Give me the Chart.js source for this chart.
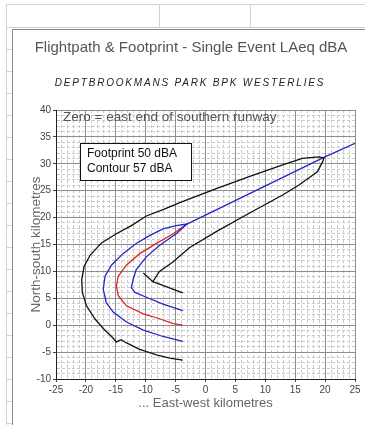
<!DOCTYPE html>
<html>
<head>
<meta charset="utf-8">
<script src="https://cdn.jsdelivr.net/npm/chart.js@4.4.0/dist/chart.umd.min.js"></script>
<style>
  body { margin: 0; background: #fff; width: 365px; height: 425px; overflow: hidden; position: relative; }
  .ln { position: absolute; background: #d2d2d2; }
  #box { position: absolute; left: 12px; top: 29px; width: 360px; height: 400px; border-left: 1px solid #8a8a8a; border-top: 1px solid #8a8a8a; }
  #chart { position: absolute; left: 13px; top: 30px; }
</style>
</head>
<body>
<!-- spreadsheet cells behind the chart -->
<div class="ln" style="left:6px;top:4px;width:359px;height:1px"></div>
<div class="ln" style="left:6px;top:27px;width:359px;height:1px"></div>
<div class="ln" style="left:159px;top:4px;width:1px;height:23px"></div>
<div class="ln" style="left:250px;top:4px;width:1px;height:23px"></div>
<div class="ln" style="left:6px;top:4px;width:1px;height:421px"></div>
<div id="rows"></div>
<div id="box"></div>
<canvas id="chart" width="352" height="395"></canvas>
<script>
// text
const chartTitle = "Flightpath & Footprint - Single Event LAeq dBA";
const chartSubtitle = "DEPTBROOKMANS PARK BPK WESTERLIES";
const noteText = "Zero = east end of southern runway";
const boxLines = ["Footprint 50 dBA", "Contour 57 dBA"];
const xTitle = "... East-west kilometres";
const yTitle = "North-south kilometres";

// axis ranges (km)
const xMin = -25, xMax = 25;
const yMin = -10, yMax = 40;

// footprint 50 dBA (black)
const footprintX = [-3.8, -6, -8.2, -11, -13.2, -14.1, -14.9, -15.7, -17.1, -18.5, -19.9, -20.6, -20.7, -20.3, -19.3, -17.4, -14.9, -12.4, -9.9, -7.1, -4.3, 1.8, 7.3, 12.9, 16.2, 19, 19.8, 19.6, 18.7, 15.7, 12.9, 7.3, 1.8, -2.7, -5.4, -7.7, -8.8, -10.4, -8.8, -3.8];
const footprintY = [-6.5, -6.1, -5.5, -4.5, -3.3, -2.7, -3.1, -2.1, -0.6, 1.2, 3.6, 6.1, 8.5, 10.9, 13, 15.3, 17, 18.5, 20.3, 21.5, 22.8, 25.4, 27.6, 29.8, 31.0, 31.3, 31.1, 30.4, 28.5, 26.1, 24.2, 20.8, 17.4, 14.4, 11.8, 10, 8.1, 9.7, 8.1, 6.0];

// contour 57 dBA (blue)
const contourX = [-3.8, -7.1, -10.4, -13.2, -15.4, -16.6, -17.1, -16.8, -15.7, -13.8, -11.6, -9.3, -7.1, -4.9, -3.1, -4.9, -7.7, -9.9, -11.6, -12.1, -12.4, -11.8, -9.9, -7.1, -3.8];
const contourY = [-3.0, -2.1, -0.9, 0.6, 2.4, 4.2, 6.7, 9.1, 11.2, 13.3, 15.2, 16.7, 17.9, 18.5, 18.8, 17, 14.8, 12.7, 10.3, 8.5, 7.0, 6.1, 5.2, 3.9, 2.7];

// flight path (red inside contour, blue beyond)
const pathX = [-3.8, -5.4, -7.7, -10.4, -13.2, -14.6, -14.9, -14.6, -13.2, -11, -8.2, -5.4, -3.1];
const pathY = [0, 0.3, 1.2, 2.1, 3.6, 5.5, 7.3, 9.1, 11.2, 13.3, 15.2, 17, 18.8];
const trackX = [-3.1, 19.8, 25];
const trackY = [18.8, 31.2, 33.8];

const pts = (xs, ys) => xs.map((x, i) => ({ x: x, y: ys[i] }));

// row lines in the left margin
const rows = document.getElementById("rows");
for (let y = 49; y < 425; y += 22) {
  const d = document.createElement("div");
  d.className = "ln";
  d.style.cssText = "left:6px;top:" + y + "px;width:6px;height:1px";
  rows.appendChild(d);
}

const isMajor = (ctx) => ctx.tick && ctx.tick.value % 5 === 0;

const textPlugin = {
  id: "texts",
  afterDatasetsDraw(chart) {
    const ctx = chart.ctx;
    ctx.save();
    ctx.textBaseline = "middle";

    ctx.textAlign = "center";
    ctx.fillStyle = "#555";
    ctx.font = '15px "Liberation Sans", Arial, sans-serif';
    ctx.fillText(chartTitle, 178, 18);

    ctx.fillStyle = "#222";
    ctx.font = 'italic 10px "Liberation Sans", Arial, sans-serif';
    ctx.letterSpacing = "1.8px";
    ctx.fillText(chartSubtitle, 177, 53);
    ctx.letterSpacing = "0px";

    ctx.textAlign = "left";
    ctx.fillStyle = "#555";
    ctx.font = '13.5px "Liberation Sans", Arial, sans-serif';
    ctx.fillText(noteText, 50, 87);

    ctx.fillStyle = "#fff";
    ctx.fillRect(67, 113, 111, 37);
    ctx.strokeStyle = "#111";
    ctx.lineWidth = 1;
    ctx.strokeRect(67.5, 113.5, 111, 37);
    ctx.fillStyle = "#111";
    ctx.font = '12px "Liberation Sans", Arial, sans-serif';
    ctx.fillText(boxLines[0], 74, 124);
    ctx.fillText(boxLines[1], 74, 139);
    ctx.restore();
  }
};

const gridOpts = {
  color: (ctx) => isMajor(ctx) ? "#8e8e8e" : "#cacaca",
  tickColor: (ctx) => isMajor(ctx) ? "#444" : "transparent",
  tickLength: 3,
  lineWidth: 1
};
const borderOpts = {
  color: "#222",
  dash: (ctx) => (ctx.tick && ctx.tick.value % 5 !== 0) ? [3, 2] : []
};
const tickFont = { family: '"Liberation Sans", Arial, sans-serif', size: 10 };

new Chart(document.getElementById("chart"), {
  type: "scatter",
  data: {
    datasets: [
      { label: "Footprint 50 dBA", data: pts(footprintX, footprintY), borderColor: "#111" },
      { label: "Contour 57 dBA", data: pts(contourX, contourY), borderColor: "#2424c8" },
      { label: "Flight path", data: pts(pathX, pathY), borderColor: "#e02424" },
      { label: "Track", data: pts(trackX, trackY), borderColor: "#2424c8" }
    ]
  },
  options: {
    responsive: false,
    animation: false,
    showLine: true,
    datasets: { scatter: { showLine: true, pointRadius: 0, borderWidth: 1.3, tension: 0 } },
    layout: { padding: { top: 80, right: 10, bottom: 0, left: 0 } },
    plugins: { legend: { display: false }, tooltip: { enabled: false } },
    scales: {
      x: {
        type: "linear", min: xMin, max: xMax,
        afterFit: (s) => { s.height = 46; },
        ticks: { stepSize: 1, autoSkip: false, maxRotation: 0, padding: 2, color: "#444", font: tickFont,
                 callback: (v) => v % 5 === 0 ? v : "" },
        grid: gridOpts, border: borderOpts,
        title: { display: true, text: xTitle, color: "#666", padding: { top: 0, bottom: 14 },
                 font: { family: '"Liberation Sans", Arial, sans-serif', size: 13 } }
      },
      y: {
        type: "linear", min: yMin, max: yMax,
        afterFit: (s) => { s.width = 43; },
        ticks: { stepSize: 1, autoSkip: false, padding: 2, color: "#444", font: tickFont,
                 callback: (v) => v % 5 === 0 ? v : "" },
        grid: gridOpts, border: borderOpts,
        title: { display: true, text: yTitle, color: "#666", padding: { top: 15, bottom: 0 },
                 font: { family: '"Liberation Sans", Arial, sans-serif', size: 13.5 } }
      }
    }
  },
  plugins: [textPlugin]
});
</script>
</body>
</html>
